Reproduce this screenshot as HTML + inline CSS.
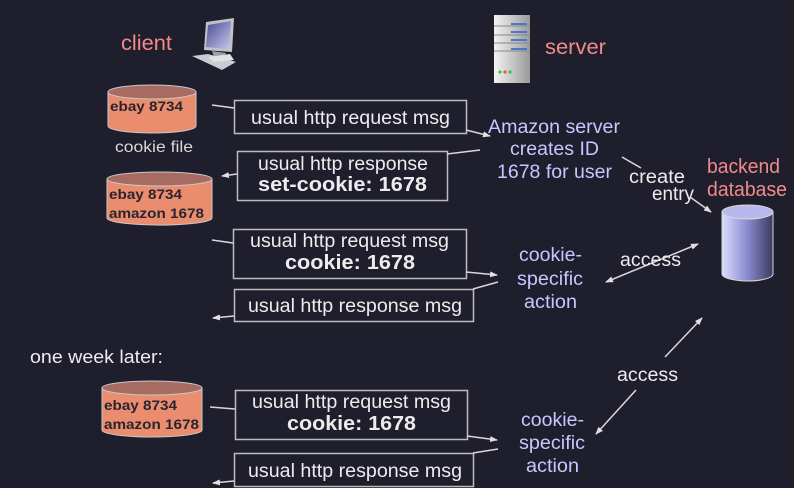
<!DOCTYPE html>
<html><head><meta charset="utf-8"><style>
html,body{margin:0;padding:0;background:#1f1e2d;}
svg{display:block;font-family:"Liberation Sans",Arial,sans-serif;}
</style></head><body>
<svg width="794" height="488" viewBox="0 0 794 488" xmlns="http://www.w3.org/2000/svg">
<defs>
<marker id="ah" markerWidth="8" markerHeight="8" refX="7" refY="4" orient="auto" markerUnits="userSpaceOnUse"><path d="M0,1 L8,4 L0,7 Z" fill="#e0e0e0"/></marker>
<marker id="as" markerWidth="8" markerHeight="8" refX="1" refY="4" orient="auto" markerUnits="userSpaceOnUse"><path d="M8,1 L0,4 L8,7 Z" fill="#e0e0e0"/></marker>
<linearGradient id="db" x1="0" x2="1"><stop offset="0" stop-color="#dcdcff"/><stop offset="0.5" stop-color="#8a8ad0"/><stop offset="1" stop-color="#3a3a60"/></linearGradient>
<linearGradient id="scr" x1="0" y1="0" x2="1" y2="1"><stop offset="0" stop-color="#4a4a90"/><stop offset="1" stop-color="#c8c8f0"/></linearGradient>
<linearGradient id="srv" x1="0" x2="1"><stop offset="0" stop-color="#f4f4f4"/><stop offset="1" stop-color="#9a9a9a"/></linearGradient>
</defs>
<rect width="794" height="488" fill="#1f1e2d"/>

<g>
<polygon points="206,22 234,18 232,52 204,50" fill="#bfc3c9"/>
<polygon points="208,25 231,21 229,49 206,47" fill="url(#scr)"/>
<polygon points="212,51 226,53 224,58 214,57" fill="#9aa0a8"/>
<polygon points="192,56 208,54 236,62 222,70" fill="#c9ccd2"/>
<polygon points="208,57 230,54 234,60 214,62" fill="#e0e2e6"/>
</g>
<text x="121" y="50" font-size="21" fill="#f28a8a" textLength="51" lengthAdjust="spacingAndGlyphs">client</text>

<g>
<rect x="494" y="15" width="36" height="68" fill="url(#srv)"/>
<rect x="511" y="23" width="16" height="2" fill="#4a78c8"/>
<rect x="511" y="31" width="16" height="2" fill="#4a78c8"/>
<rect x="511" y="39" width="16" height="2" fill="#4a78c8"/>
<rect x="511" y="48" width="16" height="2" fill="#4a78c8"/>
<line x1="494" y1="26" x2="530" y2="26" stroke="#888"/>
<line x1="494" y1="35" x2="530" y2="35" stroke="#888"/>
<line x1="494" y1="43" x2="530" y2="43" stroke="#888"/>
<line x1="494" y1="51" x2="530" y2="51" stroke="#888"/>
<circle cx="500" cy="72" r="1.6" fill="#3c3"/><circle cx="505" cy="72" r="1.6" fill="#e55"/><circle cx="510" cy="72" r="1.6" fill="#3c3"/>
</g>
<text x="545" y="54" font-size="21" fill="#f28a8a" textLength="61" lengthAdjust="spacingAndGlyphs">server</text>

<g>
<path d="M108,92 L108,126 A44,7 0 0 0 196,126 L196,92" fill="#ea8d6e" stroke="#c9c9c9" stroke-width="1"/>
<ellipse cx="152" cy="92" rx="44" ry="7" fill="#a86b61" stroke="#c9c9c9" stroke-width="1"/>
<text x="110" y="111" font-size="14" font-weight="bold" fill="#2a2430" textLength="73" lengthAdjust="spacingAndGlyphs">ebay 8734</text>
</g>
<text x="115" y="152" font-size="16" fill="#d8d8d8" textLength="78" lengthAdjust="spacingAndGlyphs">cookie file</text>
<g>
<path d="M107,179 L107,218 A52,7 0 0 0 212,218 L212,179" fill="#ea8d6e" stroke="#c9c9c9"/>
<ellipse cx="159.5" cy="179" rx="52.5" ry="7" fill="#a86b61" stroke="#c9c9c9"/>
<text x="109" y="199" font-size="14" font-weight="bold" fill="#2a2430" textLength="73" lengthAdjust="spacingAndGlyphs">ebay 8734</text>
<text x="109" y="218" font-size="14" font-weight="bold" fill="#2a2430" textLength="95" lengthAdjust="spacingAndGlyphs">amazon 1678</text>
</g>
<g>
<path d="M102,388 L102,430 A50,7 0 0 0 202,430 L202,388" fill="#ea8d6e" stroke="#c9c9c9"/>
<ellipse cx="152" cy="388" rx="50" ry="7" fill="#a86b61" stroke="#c9c9c9"/>
<text x="104" y="410" font-size="14" font-weight="bold" fill="#2a2430" textLength="73" lengthAdjust="spacingAndGlyphs">ebay 8734</text>
<text x="104" y="429" font-size="14" font-weight="bold" fill="#2a2430" textLength="95" lengthAdjust="spacingAndGlyphs">amazon 1678</text>
</g>

<g fill="none" stroke="#bdbdbd" stroke-width="1.5">
<rect x="234.5" y="100.5" width="232" height="33"/>
<rect x="237.5" y="151.5" width="210" height="49"/>
<rect x="233.5" y="229.5" width="233" height="49"/>
<rect x="234.5" y="289.5" width="239" height="32"/>
<rect x="235.5" y="390.5" width="232" height="49"/>
<rect x="234.5" y="453.5" width="239" height="33"/>
</g>
<g font-size="19" fill="#ececec">
<text x="251" y="124" textLength="199" lengthAdjust="spacingAndGlyphs">usual http request msg</text>
<text x="258" y="170" textLength="170" lengthAdjust="spacingAndGlyphs">usual http response</text>
<text x="258" y="191" font-weight="bold" font-size="20" textLength="169" lengthAdjust="spacingAndGlyphs">set-cookie: 1678</text>
<text x="250" y="247" textLength="199" lengthAdjust="spacingAndGlyphs">usual http request msg</text>
<text x="285" y="269" font-weight="bold" font-size="20" textLength="130" lengthAdjust="spacingAndGlyphs">cookie: 1678</text>
<text x="248" y="312" textLength="214" lengthAdjust="spacingAndGlyphs">usual http response msg</text>
<text x="252" y="408" textLength="199" lengthAdjust="spacingAndGlyphs">usual http request msg</text>
<text x="287" y="430" font-weight="bold" font-size="20" textLength="129" lengthAdjust="spacingAndGlyphs">cookie: 1678</text>
<text x="248" y="477" textLength="214" lengthAdjust="spacingAndGlyphs">usual http response msg</text>
</g>

<g stroke="#d8d8d8" stroke-width="1.5" fill="none">
<line x1="212" y1="105" x2="234" y2="108"/>
<line x1="466" y1="130" x2="490" y2="136" marker-end="url(#ah)"/>
<line x1="480" y1="150" x2="447" y2="154"/>
<line x1="237" y1="174" x2="222" y2="176" marker-end="url(#ah)"/>
<line x1="212" y1="240" x2="233" y2="243"/>
<line x1="466" y1="272" x2="497" y2="275" marker-end="url(#ah)"/>
<line x1="498" y1="282" x2="473" y2="289"/>
<line x1="234" y1="316" x2="213" y2="318" marker-end="url(#ah)"/>
<line x1="210" y1="407" x2="235" y2="409"/>
<line x1="467" y1="436" x2="497" y2="440" marker-end="url(#ah)"/>
<line x1="498" y1="449" x2="473" y2="453"/>
<line x1="234" y1="481" x2="213" y2="483" marker-end="url(#ah)"/>
<line x1="622" y1="157" x2="641" y2="168"/>
<line x1="690" y1="197" x2="711" y2="212" marker-end="url(#ah)"/>
<line x1="606" y1="282" x2="698" y2="244" marker-start="url(#as)" marker-end="url(#ah)"/>
<line x1="665" y1="357" x2="702" y2="318" marker-end="url(#ah)"/>
<line x1="636" y1="390" x2="596" y2="434" marker-end="url(#ah)"/>
</g>

<g font-size="19" fill="#c9c6ff">
<text x="488" y="133" textLength="132" lengthAdjust="spacingAndGlyphs">Amazon server</text>
<text x="510" y="155" textLength="89" lengthAdjust="spacingAndGlyphs">creates ID</text>
<text x="497" y="178" textLength="115" lengthAdjust="spacingAndGlyphs">1678 for user</text>
<text x="519" y="261" textLength="63" lengthAdjust="spacingAndGlyphs">cookie-</text>
<text x="517" y="285" textLength="66" lengthAdjust="spacingAndGlyphs">specific</text>
<text x="524" y="308" textLength="53" lengthAdjust="spacingAndGlyphs">action</text>
<text x="521" y="426" textLength="63" lengthAdjust="spacingAndGlyphs">cookie-</text>
<text x="519" y="449" textLength="66" lengthAdjust="spacingAndGlyphs">specific</text>
<text x="526" y="472" textLength="53" lengthAdjust="spacingAndGlyphs">action</text>
</g>
<g font-size="19" fill="#ececec">
<text x="629" y="183" textLength="56" lengthAdjust="spacingAndGlyphs">create</text>
<text x="652" y="200" textLength="42" lengthAdjust="spacingAndGlyphs">entry</text>
<text x="620" y="266" textLength="61" lengthAdjust="spacingAndGlyphs">access</text>
<text x="617" y="381" textLength="61" lengthAdjust="spacingAndGlyphs">access</text>
<text x="30" y="363" font-size="18" textLength="133" lengthAdjust="spacingAndGlyphs">one week later:</text>
</g>
<g font-size="20" fill="#f28a8a">
<text x="707" y="173" textLength="73" lengthAdjust="spacingAndGlyphs">backend</text>
<text x="707" y="196" textLength="80" lengthAdjust="spacingAndGlyphs">database</text>
</g>
<g>
<path d="M722,212 L722,274 A25.5,7 0 0 0 773,274 L773,212" fill="url(#db)" stroke="#d8d8d8"/>
<ellipse cx="747.5" cy="212" rx="25.5" ry="7" fill="#b8b8ee" stroke="#d8d8d8"/>
</g>
</svg>
</body></html>
